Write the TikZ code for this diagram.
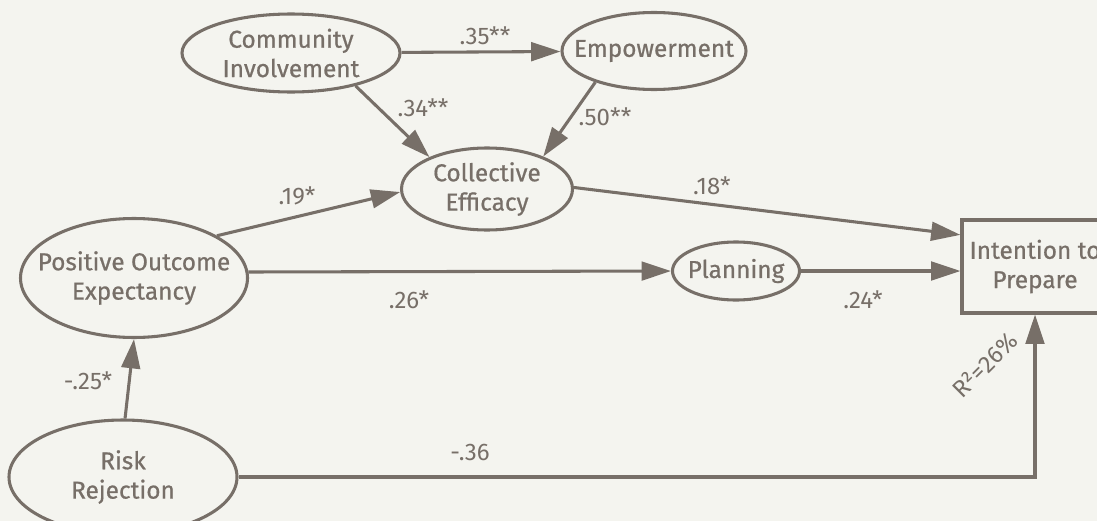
\documentclass[tikz,border=0pt]{standalone}
\usepackage{fontspec}
\setmainfont{Fira Sans}
\newfontfamily\boxfont{Fira Sans}[FakeBold=0.7]
\usetikzlibrary{shapes.geometric,arrows.meta}

\definecolor{paper}{HTML}{F4F4EF}
\definecolor{ink}{HTML}{776F68}

\tikzset{
    latent/.style={ellipse, draw=ink, line width=2.3pt, inner sep=-25pt, align=center,
        text=ink, font=\boxfont\fontsize{18.3}{22}\selectfont},
    observed/.style={rectangle, draw=ink, line width=2.3pt, inner sep=0pt, align=center,
        text=ink, font=\boxfont\fontsize{18.3}{22}\selectfont},
    effect/.style={draw=ink, line width=2.3pt, -{Triangle[length=22pt,width=14pt]}},
    coef/.style={text=ink, inner sep=0pt, font=\fontsize{18}{20}\selectfont}
}

\begin{document}
\begin{tikzpicture}[x=0.75pt, y=-0.75pt]
    	% canvas
    	\fill[paper] (0,0) rectangle (1097,521);
    	\useasboundingbox (0,0) rectangle (1097,521);
    	\clip (0,0) rectangle (1097,521);
    	% Constructs:
    	\node[latent, minimum width=163.5pt, minimum height=58.5pt] (ci) at (291,53) {Community\\Involvement};
    	\node[latent, minimum width=138pt, minimum height=57.75pt] (emp) at (654,51) {Empowerment};
    	\node[latent, minimum width=128.25pt, minimum height=61.5pt] (ce) at (487,189) {Collective\\Efficacy};
    	\node[latent, minimum width=170.25pt, minimum height=89.25pt] (poe) at (134,278) {Positive Outcome\\Expectancy};
    	\node[latent, minimum width=95.25pt, minimum height=43.5pt] (pl) at (736,271) {Planning};
    	\node[latent, minimum width=171pt, minimum height=85.5pt] (rr) at (123,477) {Risk\\Rejection};
    	\node[observed, minimum width=109.5pt, minimum height=69.75pt] (itp) at (1035,266.5) {Intention to\\Prepare};
    	% Paths:
    	\draw[effect] (ci) -- (emp);
    	\draw[effect] (ci.-27) -- (ce.151);
    	\draw[effect] (emp.208) -- (ce.30);
    	\draw[effect] (poe.27) -- (ce.182);
    	\draw[effect] (ce.1) -- (itp.157);
    	\draw[effect] (poe.3) -- (pl.west);
    	\draw[effect] (pl) -- (pl -| itp.west);
    	\draw[effect] (rr.88) -- (poe.south);
    	\draw[effect] (rr.east) -- (rr.east -| itp.south) -- (itp.south);
    	% Coefficients:
    	\node[coef] (c35) at (485,36) {.35**};
    	\node[coef] (c34) at (423,108) {.34**};
    	\node[coef] (c50) at (605,117) {.50**};
    	\node[coef] (c19) at (297,196) {.19*};
    	\node[coef] (c18) at (712,186) {.18*};
    	\node[coef] (c26) at (409,300) {.26*};
    	\node[coef] (c24) at (863,300) {.24*};
    	\node[coef] (c25) at (88,381) {-.25*};
    	\node[coef] (c36) at (470,452) {-.36};
    	\node[coef, rotate=45] (rsq) at (985,365) {R²=26\%};
    \end{tikzpicture}
\end{document}
